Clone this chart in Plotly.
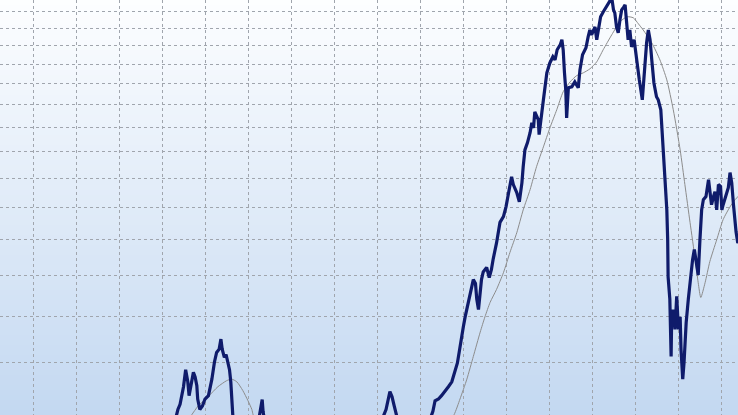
import plotly.graph_objects as go
import math

# ---- price series (decimal year, index level) ----
price_x = [
    2003.19, 2003.37, 2003.42, 2003.50, 2003.55, 2003.60, 2003.63, 2003.67, 2003.73, 2003.77,
    2003.81, 2003.83, 2003.88, 2003.94, 2004.00, 2004.08, 2004.16, 2004.22, 2004.27, 2004.33,
    2004.37, 2004.40, 2004.45, 2004.49, 2004.53, 2004.57, 2004.60, 2004.62, 2004.65, 2004.81,
    2005.05, 2005.23, 2005.30, 2005.33, 2005.35, 2005.42, 2005.74, 2006.21, 2006.91, 2007.60,
    2008.07, 2008.21, 2008.30, 2008.35, 2008.40, 2008.47, 2008.65, 2009.00, 2009.23, 2009.30,
    2009.35, 2009.43, 2009.50, 2009.58, 2009.66, 2009.74, 2009.81, 2009.87, 2009.91, 2009.97,
    2010.01, 2010.05, 2010.10, 2010.15, 2010.20, 2010.24, 2010.29, 2010.32, 2010.36, 2010.40,
    2010.43, 2010.47, 2010.55, 2010.61, 2010.66, 2010.70, 2010.78, 2010.86, 2010.94, 2011.00,
    2011.05, 2011.13, 2011.17, 2011.25, 2011.31, 2011.37, 2011.40, 2011.44, 2011.50, 2011.56,
    2011.60, 2011.64, 2011.67, 2011.75, 2011.77, 2011.83, 2011.87, 2011.95, 2012.02, 2012.09,
    2012.14, 2012.19, 2012.26, 2012.30, 2012.33, 2012.36, 2012.39, 2012.41, 2012.45, 2012.53,
    2012.60, 2012.68, 2012.72, 2012.78, 2012.86, 2012.91, 2012.95, 2012.99, 2013.07, 2013.11,
    2013.15, 2013.20, 2013.26, 2013.34, 2013.40, 2013.46, 2013.50, 2013.53, 2013.57, 2013.61,
    2013.65, 2013.69, 2013.74, 2013.77, 2013.81, 2013.84, 2013.88, 2013.92, 2013.98, 2014.02,
    2014.05, 2014.10, 2014.17, 2014.23, 2014.27, 2014.31, 2014.35, 2014.39, 2014.44, 2014.50,
    2014.54, 2014.60, 2014.66, 2014.70, 2014.74, 2014.76, 2014.77, 2014.81, 2014.84, 2014.85,
    2014.89, 2014.93, 2014.97, 2015.01, 2015.05, 2015.07, 2015.11, 2015.14, 2015.19, 2015.24,
    2015.30, 2015.34, 2015.38, 2015.44, 2015.47, 2015.51, 2015.55, 2015.59, 2015.65, 2015.71,
    2015.74, 2015.78, 2015.82, 2015.86, 2015.90, 2015.94, 2015.99, 2016.02, 2016.05, 2016.12,
    2016.17, 2016.21, 2016.25, 2016.29, 2016.33, 2016.35, 2016.39, 2016.44,
]
price_y = [
    4650, 5150, 5240, 5550, 5870, 5640, 5390, 5570, 5820, 5730,
    5570, 5330, 5150, 5210, 5330, 5390, 5690, 6020, 6210, 6280,
    6490, 6280, 6110, 6170, 6020, 5870, 5640, 5390, 5010, 4650,
    4740, 4900, 5150, 5320, 5120, 4820, 4590, 4370, 4430, 4650,
    4900, 5150, 5460, 5370, 5210, 5010, 4740, 4820, 4980, 5120,
    5300, 5330, 5390, 5460, 5550, 5640, 5820, 6000, 6210, 6490,
    6770, 6980, 7200, 7440, 7640, 7890, 7790, 7400, 7150, 7640,
    7890, 8090, 8210, 7940, 8150, 8430, 8900, 9520, 9700, 10020,
    10360, 11060, 10780, 10500, 10190, 10840, 11430, 12080, 12370, 12780,
    13200, 12980, 13690, 13340, 12700, 13470, 14240, 15560, 16070, 16400,
    16230, 16780, 17050, 17340, 16780, 15560, 14710, 13420, 14810, 14860,
    15100, 14810, 15710, 16510, 16890, 17510, 17910, 17630, 18090, 17340,
    18090, 18700, 19000, 19320, 19640, 19900, 19130, 18940, 18090, 17740,
    18520, 19130, 19320, 19450, 18210, 17340, 17910, 16940, 17340, 16510,
    15960, 15200, 14240, 15960, 17170, 17910, 17340, 16230, 15050, 14380,
    14240, 13780, 12080, 10950, 9920, 8990, 7960, 7400, 6130, 6770,
    7150, 6700, 7470, 6700, 6980, 6280, 5690, 6000, 6850, 7400,
    8090, 8430, 8710, 8290, 8010, 8990, 9920, 10260, 10360, 10950,
    10600, 10090, 10330, 10530, 9920, 10780, 10710, 9920, 10090, 10430,
    10670, 11210, 10840, 10090, 9450, 9230, 8900, 8990,
]

# ---- moving average series ----
ma_x = [
    2003.53, 2003.69, 2003.84, 2004.07, 2004.30, 2004.50, 2004.62, 2004.74, 2004.88, 2005.00,
    2005.09, 2005.12, 2005.28, 2006.21, 2007.37, 2008.53, 2009.47, 2009.79, 2009.93, 2010.09,
    2010.24, 2010.40, 2010.51, 2010.63, 2010.78, 2010.94, 2011.09, 2011.25, 2011.40, 2011.56,
    2011.71, 2011.87, 2012.02, 2012.18, 2012.33, 2012.49, 2012.64, 2012.80, 2012.95, 2013.11,
    2013.26, 2013.46, 2013.65, 2013.81, 2013.96, 2014.08, 2014.19, 2014.39, 2014.58, 2014.74,
    2014.89, 2015.05, 2015.16, 2015.28, 2015.40, 2015.47, 2015.53, 2015.63, 2015.74, 2015.90,
    2016.05, 2016.21, 2016.33, 2016.44,
]
ma_y = [
    4900, 5060, 5210, 5370, 5550, 5660, 5690, 5640, 5480, 5300,
    5150, 5060, 4820, 4370, 4300, 4510, 4740, 5060, 5330, 5690,
    6130, 6640, 6980, 7320, 7640, 8070, 8620, 9200, 9920, 10600,
    11430, 12200, 12980, 13780, 14620, 15100, 15410, 15560, 15760, 16130,
    16780, 17630, 18390, 18700, 18640, 18270, 17910, 17170, 16230, 15200,
    13780, 12080, 10780, 9520, 8430, 7810, 7440, 7810, 8370, 8990,
    9610, 10020, 10260, 10430,
]

# ---- axes ----
x_range = [1999.2326, 2016.3953]
y_range_vals = [5058, 19760]
y_grid_vals = [6000, 7000, 8000, 9000, 10000, 11000, 12000, 13000,
               14000, 15000, 16000, 17000, 18000, 19000]

fig = go.Figure()

# gradient background built from horizontal strips
top_rgb = (253, 254, 255)
bot_rgb = (195, 216, 241)
n_strips = 83
shapes = []
for i in range(n_strips):
    t = (i + 0.5) / n_strips
    c = tuple(round(top_rgb[k] + (bot_rgb[k] - top_rgb[k]) * t) for k in range(3))
    shapes.append(dict(
        type="rect", xref="paper", yref="paper",
        x0=0, x1=1, y0=1 - (i + 1) / n_strips - 0.002, y1=1 - i / n_strips,
        fillcolor="rgb(%d,%d,%d)" % c, line=dict(width=0), layer="below",
    ))

fig.add_trace(go.Scatter(
    x=ma_x, y=ma_y, mode="lines",
    line=dict(color="#8c8c8c", width=1, shape="spline", smoothing=0.6),
    hoverinfo="skip", showlegend=False,
))
fig.add_trace(go.Scatter(
    x=price_x, y=price_y, mode="lines",
    line=dict(color="#0f1b6b", width=3.2),
    showlegend=False,
))

grid_style = dict(showgrid=True, gridcolor="#a0a5ad", gridwidth=1, griddash="3px,3px")

fig.update_layout(
    width=738, height=415,
    margin=dict(l=0, r=0, t=0, b=0),
    paper_bgcolor="rgba(0,0,0,0)",
    plot_bgcolor="rgba(0,0,0,0)",
    shapes=shapes,
    hovermode=False,
    xaxis=dict(
        range=x_range, tick0=2000, dtick=1,
        showticklabels=False, zeroline=False, showline=False,
        **grid_style,
    ),
    yaxis=dict(
        type="log",
        range=[math.log10(y_range_vals[0]), math.log10(y_range_vals[1])],
        tickmode="array", tickvals=y_grid_vals,
        showticklabels=False, zeroline=False, showline=False,
        **grid_style,
    ),
)

fig.write_html(
    "out.html",
    config={"displayModeBar": False, "staticPlot": True},
    post_script="document.body.style.margin='0';document.body.style.padding='0';"
                "document.body.style.overflow='hidden';",
)
